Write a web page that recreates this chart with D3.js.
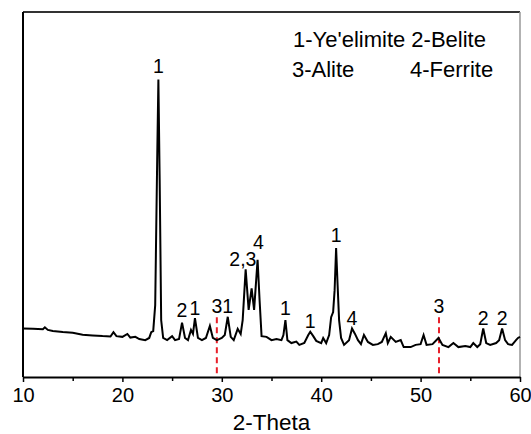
<!DOCTYPE html>
<html lang="en">
  <head>
    <meta charset="utf-8" />
    <title>XRD pattern</title>
    <script type="text/javascript" src="https://d3js.org/d3.v7.min.js"></script>
    <style>
      body { margin: 0; background: #fff; }
      svg { font-family: Arial, "Liberation Sans", sans-serif; }
      .axis path { stroke: #000; stroke-width: 2px; }
      .axis line { stroke: #000; stroke-width: 1.5px; }
      .axis text { font-size: 20px; fill: #000; }
      path.trace { fill: none; stroke: #000; stroke-width: 2px; }
      line.ref { stroke: #e8202a; stroke-width: 2px; stroke-dasharray: 6 4; }
      .peak { font-size: 19.5px; fill: #000; }
      .legend { font-size: 22px; fill: #000; }
    </style>
  </head>
  <body>
    <script>
      let w = 531;
      let h = 434;
      let margin = { top: 12, right: 11, bottom: 57, left: 23 };

      // pattern (arbitrary intensity)
      let twoTheta = [
        10, 11, 12, 12.2, 12.5, 13, 14, 15, 16, 17, 18, 18.8, 19.1, 19.4, 20, 20.5, 20.8,
        21.3, 21.7, 22.3, 22.7, 22.9, 23.1, 23.3, 23.5, 23.62, 23.75, 23.9, 24.1, 24.5,
        25, 25.3, 25.7, 26, 26.3, 26.6, 26.9, 27.1, 27.3, 27.6, 28, 28.4, 28.8, 29.1,
        29.5, 30, 30.3, 30.6, 30.9, 31.2, 31.6, 31.9, 32.1, 32.4, 32.7, 33, 33.25, 33.6,
        33.8, 34, 34.5, 35, 35.5, 36, 36.2, 36.4, 36.6, 37, 37.5, 37.8, 38.3, 38.7, 38.9,
        39.2, 39.5, 40, 40.2, 40.5, 40.8, 41, 41.2, 41.35, 41.5, 41.65, 41.8, 42, 42.3,
        42.8, 43.1, 43.4, 43.7, 44, 44.3, 44.7, 45.2, 45.7, 46.1, 46.5, 46.7, 47, 47.5,
        48, 48.3, 49, 49.5, 50, 50.3, 50.6, 51.2, 51.8, 52.2, 52.8, 53.3, 53.8, 54.5,
        55, 55.3, 55.7, 56, 56.3, 56.6, 57, 57.6, 57.9, 58.2, 58.5, 58.8, 59.2, 59.6,
        59.8, 60
      ];
      let intensity = [
        133, 132, 131, 136, 129, 126, 123, 121, 116, 114, 112, 111, 123, 112, 110, 118, 108,
        110, 104, 101, 107, 123, 126, 197, 595, 815, 540, 156, 107, 101,
        112, 101, 104, 149, 107, 101, 129, 118, 161, 107, 101, 107, 140, 107,
        101, 107, 115, 165, 110, 101, 132, 118, 156, 295, 184, 243, 184, 321,
        211, 112, 110, 101, 104, 101, 115, 156, 101, 93, 97, 88, 93, 115, 124,
        112, 99, 93, 107, 93, 115, 164, 178, 238, 353, 252, 156, 107, 88,
        101, 133, 118, 101, 90, 115, 96, 88, 90, 96, 120, 93, 110, 96,
        101, 82, 82, 88, 90, 115, 88, 90, 107, 88, 82, 93, 82, 85,
        82, 93, 82, 90, 133, 93, 88, 93, 101, 133, 101, 90, 88, 101,
        107, 110
      ];

      // peak labels: text, 2-theta, intensity at text baseline
      let peakText = ["1", "2", "1", "3", "1", "2,3", "4", "1", "1", "1", "4", "3", "2", "2"];
      let peakPos = [23.62, 26.0, 27.3, 29.5, 30.6, 32.12, 33.68, 36.4, 38.9, 41.5, 43.1, 51.85, 56.3, 58.2];
      let peakAt = [833, 165, 170, 174, 174, 305, 352, 170, 134, 371, 142, 175, 142, 142];

      // red dashed reference lines (Alite)
      let refPos = [29.5, 51.85];
      let refTop = [164, 164];

      let legendLines = ["1-Ye'elimite 2-Belite", "3-Alite", "4-Ferrite"];

      let xTicks = [10, 20, 30, 40, 50, 60];
      let xMinor = [15, 25, 35, 45, 55];

      let data = twoTheta.map((d, i) => ({ x: d, y: intensity[i] }));

      let svg = d3.select("body").append("svg").attr("width", w).attr("height", h);

      let x_scale = d3.scaleLinear().domain([10, 60]).range([margin.left, w - margin.right]);
      let y_scale = d3.scaleLinear().domain([0, 1000]).range([h - margin.bottom, margin.top]);

      // frame
      svg.append("line")
        .attr("x1", x_scale(10)).attr("x2", x_scale(60))
        .attr("y1", y_scale(1000)).attr("y2", y_scale(1000))
        .attr("stroke", "#333").attr("stroke-width", 2);
      svg.append("line")
        .attr("x1", x_scale(60)).attr("x2", x_scale(60))
        .attr("y1", y_scale(1000)).attr("y2", y_scale(0))
        .attr("stroke", "#999").attr("stroke-width", 1.5);
      svg.append("line")
        .attr("x1", x_scale(10)).attr("x2", x_scale(10))
        .attr("y1", y_scale(1000)).attr("y2", y_scale(0))
        .attr("stroke", "#000").attr("stroke-width", 2);

      // minor ticks
      svg.append("g")
        .attr("transform", `translate(0,${y_scale(0)})`)
        .call(d3.axisBottom(x_scale).tickValues(xMinor).tickSize(4).tickFormat(""))
        .call((g) => g.select(".domain").remove())
        .selectAll("line").attr("stroke", "#000").attr("stroke-width", 1.5);

      let x_axis = d3.axisBottom(x_scale).tickValues(xTicks).tickSize(5).tickPadding(6).tickSizeOuter(0);
      svg.append("g")
        .attr("class", "x axis")
        .attr("transform", `translate(0,${y_scale(0)})`)
        .call(x_axis)
        .selectAll("text").attr("font-family", "Arial, 'Liberation Sans', sans-serif");

      svg.append("text")
        .attr("x", (x_scale(10) + x_scale(60)) / 2)
        .attr("y", 430)
        .attr("text-anchor", "middle")
        .style("font-size", "22.5px")
        .text("2-Theta");

      // reference lines
      svg.selectAll("line.ref")
        .data(refPos)
        .join("line")
        .attr("class", "ref")
        .attr("x1", (d) => x_scale(d)).attr("x2", (d) => x_scale(d))
        .attr("y1", (d, i) => y_scale(refTop[i])).attr("y2", y_scale(0));

      let line = d3.line().x((d) => x_scale(d.x)).y((d) => y_scale(d.y));
      svg.append("path").attr("class", "trace").attr("d", line(data));

      svg.selectAll("text.peak")
        .data(peakText)
        .join("text")
        .attr("class", "peak")
        .attr("text-anchor", "middle")
        .attr("x", (d, i) => x_scale(peakPos[i]))
        .attr("y", (d, i) => y_scale(peakAt[i]))
        .text((d) => d);

      // legend
      svg.append("text").attr("class", "legend").attr("x", 293).attr("y", 47).text(legendLines[0]);
      svg.append("text").attr("class", "legend").attr("x", 292).attr("y", 77).text(legendLines[1]);
      svg.append("text").attr("class", "legend").attr("x", 410).attr("y", 77).text(legendLines[2]);
    </script>
  </body>
</html>
